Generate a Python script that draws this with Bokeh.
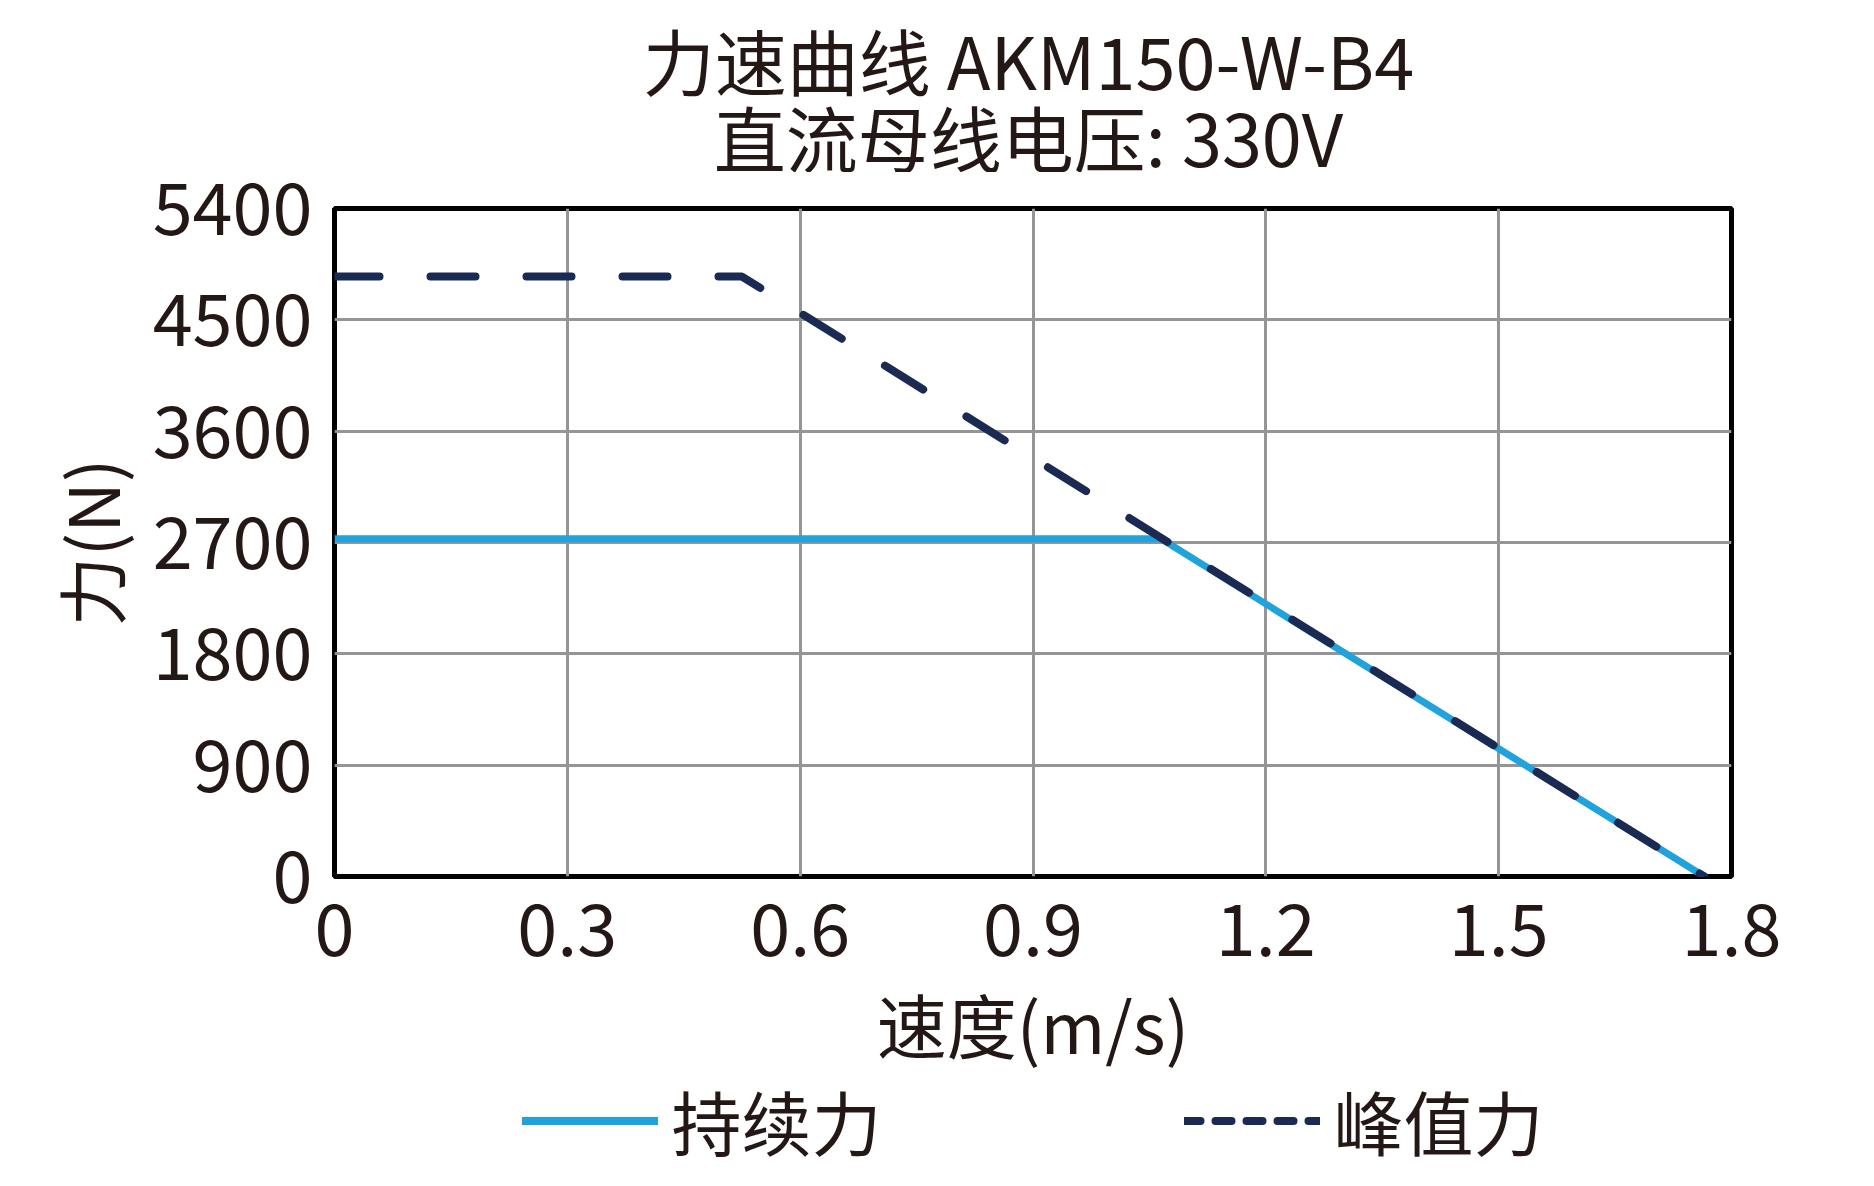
from bokeh.plotting import figure
from bokeh.layouts import column
from bokeh.models import FixedTicker, Label, Legend, LegendItem
from bokeh.embed import file_html
from bokeh.resources import INLINE

FONT = "Noto Sans CJK SC"
TEXT_COLOR = "#231815"
CONT_COLOR = "#20a3dd"
PEAK_COLOR = "#1b2a52"

title_lines = ["力速曲线 AKM150-W-B4", "直流母线电压: 330V"]
x_label = "速度(m/s)"
y_label = "力(N)"

x_ticks = [0, 0.3, 0.6, 0.9, 1.2, 1.5, 1.8]
x_tick_labels = ["0", "0.3", "0.6", "0.9", "1.2", "1.5", "1.8"]
y_ticks = [0, 900, 1800, 2700, 3600, 4500, 5400]

# 持续力 (continuous force)
cont_speed = [0, 1.065, 1.765]
cont_force = [2730, 2730, 0]

# 峰值力 (peak force)
peak_speed = [0, 0.525, 1.765]
peak_force = [4850, 4850, 0]

series_names = ["持续力", "峰值力"]

W = 1858


def blank_figure(height):
    # frames of figures in a column line up with the main plot's frame
    f = figure(width=W, height=height, x_range=(0, 1), y_range=(0, 1),
               output_backend="svg", toolbar_location=None,
               x_axis_type=None, y_axis_type=None, min_border=0)
    f.outline_line_color = None
    f.grid.visible = False
    return f


def make_title():
    t = blank_figure(172)
    for text, y in zip(title_lines, [114, 37]):
        t.add_layout(Label(x=694, y=y, x_units="screen", y_units="screen",
                           text=text, text_align="center", text_baseline="middle",
                           text_font=FONT, text_font_size="72px",
                           text_color=TEXT_COLOR))
    return t


def make_plot():
    p = figure(width=W, height=904, x_range=(0, 1.8), y_range=(0, 5400),
               output_backend="svg", toolbar_location=None,
               min_border_left=334, min_border_right=127,
               min_border_top=36, min_border_bottom=194)
    p.outline_line_color = "black"
    p.outline_line_width = 5

    p.xaxis.ticker = FixedTicker(ticks=x_ticks)
    p.xaxis.major_label_overrides = dict(zip(x_ticks, x_tick_labels))
    p.yaxis.ticker = FixedTicker(ticks=y_ticks)
    p.xgrid.ticker = FixedTicker(ticks=x_ticks)
    p.ygrid.ticker = FixedTicker(ticks=y_ticks)

    for ax in (p.xaxis, p.yaxis):
        ax.axis_line_color = None
        ax.major_tick_line_color = None
        ax.minor_tick_line_color = None
        ax.major_label_text_font = FONT
        ax.major_label_text_color = TEXT_COLOR
        ax.axis_label_text_font = FONT
        ax.axis_label_text_color = TEXT_COLOR
        ax.axis_label_text_font_style = "normal"
        ax.axis_label_text_font_size = "70px"
    p.xaxis.major_label_text_font_size = "72px"
    p.yaxis.major_label_text_font_size = "72px"
    p.xaxis.major_label_standoff = 20
    p.yaxis.major_label_standoff = 16
    p.xaxis.axis_label = x_label
    p.yaxis.axis_label = y_label
    p.xaxis.axis_label_standoff = 14
    p.yaxis.axis_label_standoff = 10

    for g in (p.xgrid, p.ygrid):
        g.grid_line_color = "#959595"
        g.grid_line_width = 3

    p.line(cont_speed, cont_force, line_color=CONT_COLOR, line_width=7)
    p.line(peak_speed, peak_force, line_color=PEAK_COLOR, line_width=8,
           line_dash="45 51", line_cap="round")
    return p


def make_legend():
    lg = blank_figure(88)
    # hidden copies of the curves, only used for the legend keys
    cont_key = lg.line(cont_speed, cont_force, line_color=CONT_COLOR,
                       line_width=8, line_cap="round", visible=False)
    peak_key = lg.line(peak_speed, peak_force, line_color=PEAK_COLOR,
                       line_width=8, line_dash="16 15", line_cap="round",
                       visible=False)
    legend = Legend(items=[LegendItem(label=series_names[0], renderers=[cont_key]),
                           LegendItem(label=series_names[1], renderers=[peak_key])],
                    orientation="horizontal", location="center",
                    glyph_width=136, glyph_height=70, label_height=70,
                    label_standoff=14, spacing=302, padding=0, margin=0,
                    border_line_color=None, background_fill_alpha=0,
                    inactive_fill_alpha=0,
                    label_text_font=FONT, label_text_font_size="70px",
                    label_text_color=TEXT_COLOR)
    lg.add_layout(legend)
    return lg


page = column(make_title(), make_plot(), make_legend(), spacing=0)
open("out.html", "w").write(file_html(page, INLINE))
